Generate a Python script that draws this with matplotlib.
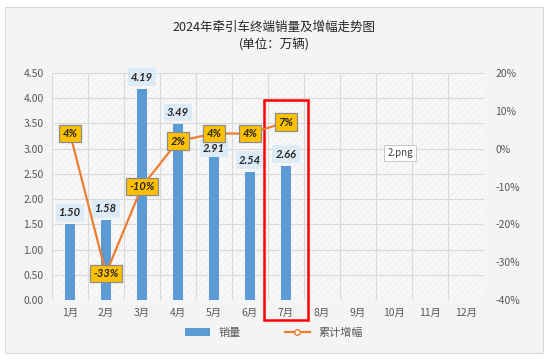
import numpy as np
import matplotlib
matplotlib.use("Agg")
import matplotlib.pyplot as plt
from matplotlib.patches import Rectangle

plt.rcParams['font.family'] = ['Noto Sans CJK SC', 'DejaVu Sans']
plt.rcParams['hatch.linewidth'] = 0.35

months = ['1月', '2月', '3月', '4月', '5月', '6月', '7月', '8月', '9月', '10月', '11月', '12月']
sales = [1.50, 1.58, 4.19, 3.49, 2.91, 2.54, 2.66]
growth = [0.04, -0.33, -0.10, 0.02, 0.04, 0.04, 0.07]
growth_labels = ['4%', '-33%', '-10%', '2%', '4%', '4%', '7%']
left_ticks = np.arange(0, 4.51, 0.5)
right_ticks = [-0.4, -0.3, -0.2, -0.1, 0.0, 0.1, 0.2]

blue = '#5B9BD5'
orange = '#ED7D31'
tick_col = '#595959'
num_font = ['Lato', 'DejaVu Sans']

# gap between bar top and its value label (May's label sits lower to clear the 4% box)
label_gap = [0.23] * len(sales)
label_gap[4] = 0.1

fig = plt.figure(figsize=(5.48, 3.6), dpi=100, facecolor='white')
# outer panel
fig.patches.append(Rectangle((5 / 548, 7 / 360), 538 / 548, 346 / 360, transform=fig.transFigure,
                             facecolor='#F4F4F4', edgecolor='#D9D9D9', lw=0.8, zorder=-10))

ax = fig.add_axes([52 / 548, 60 / 360, 432 / 548, 227 / 360])
ax.set_facecolor('none')
ax.add_patch(Rectangle((0, 0), 1, 1, transform=ax.transAxes, facecolor='#F8F8F8',
                       edgecolor='#E6E6E6', hatch='/////', lw=0, zorder=0))

x = np.arange(len(months))
ax.set_xlim(-0.5, 11.5)
ax.set_ylim(0, 4.5)
ax.set_yticks(left_ticks)
ax.set_yticklabels([f'{v:.2f}' for v in left_ticks], color=tick_col, fontsize=7.5)
ax.set_xticks(x)
ax.set_xticklabels(months, color=tick_col, fontsize=7.5)
ax.set_xticks(np.arange(-0.5, 12, 1), minor=True)
ax.tick_params(axis='both', which='both', length=0, pad=6)
ax.grid(True, axis='y', which='major', color='#D9D9D9', lw=0.8, zorder=1)
ax.grid(True, axis='x', which='minor', color='#D9D9D9', lw=0.8, zorder=1)
for s in ax.spines.values():
    s.set_visible(False)
ax.axhline(0, color='#D9D9D9', lw=0.8)

ax.bar(x[:len(sales)], sales, width=0.28, color=blue, zorder=3, label='销量')
for xi, v, g in zip(x, sales, label_gap):
    ax.text(xi, v + g, f'{v:.2f}', ha='center', va='center', fontsize=8, family=num_font,
            fontweight='bold', fontstyle='italic', color='#262626', zorder=6,
            bbox=dict(boxstyle='square,pad=0.3', fc='#DDEBF7', ec='none'))

ax2 = ax.twinx()
ax2.set_ylim(-0.4, 0.2)
ax2.set_yticks(right_ticks)
ax2.set_yticklabels([f'{int(round(v * 100))}%' for v in right_ticks], color=tick_col, fontsize=7.5)
ax2.tick_params(axis='y', length=0, pad=8)
for s in ax2.spines.values():
    s.set_visible(False)
ax2.plot(x[:len(growth)], growth, color=orange, lw=1.6, marker='o', ms=4,
         mfc='white', mec=orange, zorder=4, label='累计增幅')
for xi, v, lab in zip(x, growth, growth_labels):
    ax2.text(xi, v, lab, ha='center', va='center', fontsize=8, family=num_font, fontweight='bold',
             fontstyle='italic', color='#262626', zorder=7,
             bbox=dict(boxstyle='square,pad=0.3', fc='#FFC000', ec='#8C8C8C', lw=0.9))

# highlight box around July
ax.add_patch(Rectangle((5.39, -0.4), 1.22, 4.37, fill=False, ec='#FF0000', lw=1.8,
                       clip_on=False, zorder=8))

fig.text(400 / 548, 1 - 153 / 360, '2.png', ha='center', va='center', fontsize=7, color='#404040',
         bbox=dict(boxstyle='square,pad=0.35', fc='white', ec='#BFBFBF', lw=0.6))

fig.text(0.5, 1 - 27 / 360, '2024年牵引车终端销量及增幅走势图', ha='center', va='center',
         fontsize=9, color='#262626')
fig.text(0.5, 1 - 45 / 360, '(单位：万辆)', ha='center', va='center', fontsize=9, color='#262626')

h1, l1 = ax.get_legend_handles_labels()
h2, l2 = ax2.get_legend_handles_labels()
fig.legend(h1 + h2, l1 + l2, loc='center', bbox_to_anchor=(0.5, 1 - 333 / 360), ncol=2,
           frameon=False, fontsize=8, labelcolor=tick_col, handlelength=2.2, columnspacing=4)

fig.savefig('out.png', dpi=100, facecolor='white')
